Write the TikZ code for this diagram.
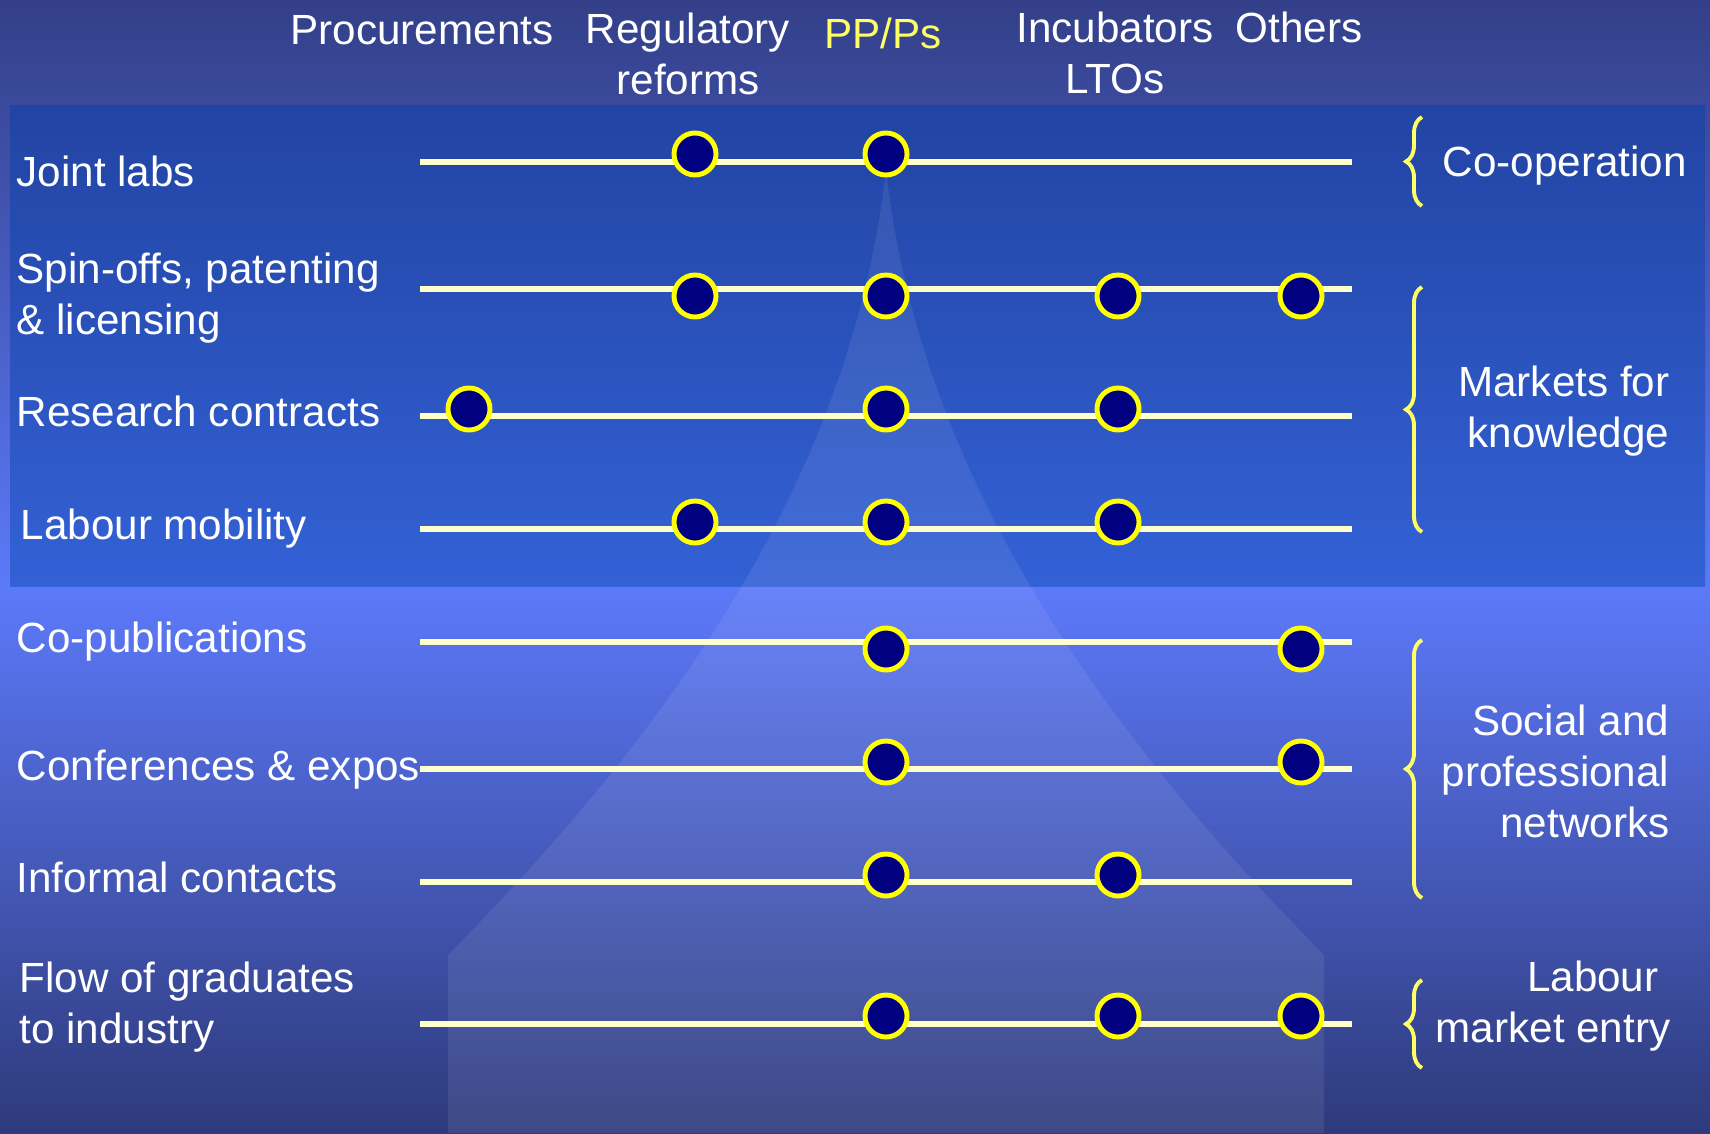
\documentclass[tikz,border=0pt]{standalone}
\usepackage{fontspec}
\setmainfont{Liberation Sans}
\usepackage{xcolor}
\usetikzlibrary{decorations.pathreplacing}

\definecolor{bgtop}{HTML}{333F88}
\definecolor{bgmid}{HTML}{5C79F9}
\definecolor{bgbot}{HTML}{2E3A7B}
\definecolor{paneltop}{HTML}{2244A3}
\definecolor{panelbot}{HTML}{3361D6}
\definecolor{trackcol}{HTML}{FFFFCC}
\definecolor{dotfill}{HTML}{000080}
\definecolor{dotline}{HTML}{FFFF00}
\definecolor{bracecol}{HTML}{FFFF66}

\begin{document}
\begin{tikzpicture}[x=0.01cm, y=-0.01cm,
    dot/.style={circle, draw=dotline, fill=dotfill, line width=1.4pt, minimum size=0.42cm, inner sep=0pt},
    track/.style={draw=trackcol, line width=1.5pt},
    txt/.style={text=white, font=\fontsize{12}{14.5}\selectfont, inner sep=0pt},
    grp/.style={draw=bracecol, line width=1.1pt, decorate, decoration={brace, amplitude=0.16cm}}]
    \useasboundingbox (0,0) rectangle (1710,1133);

    % background and panel
    \shade[top color=bgtop, bottom color=bgmid] (0,0) rectangle (1710,588);
    \shade[top color=bgmid, bottom color=bgbot] (0,588) rectangle (1710,1133);
    \shade[top color=paneltop, bottom color=panelbot] (10,105) rectangle (1705,586);
    \fill[white, opacity=0.08] (448,1133) -- (448,955) .. controls (640,760) and (850,500) .. (886,169)
        .. controls (922,500) and (1132,760) .. (1324,955) -- (1324,1133) -- cycle;

    % column heads (multi-line nodes sit on their last baseline)
    \node[txt, anchor=base] (procurements) at (422,44) {Procurements};
    \node[txt, anchor=base, align=center] (regulatory) at (688,94) {Regulatory\\reforms};
    \node[txt, anchor=base, text=bracecol] (ppps) at (883,48) {PP/Ps};
    \node[txt, anchor=base, align=center] (incubators) at (1115,93) {Incubators\\LTOs};
    \node[txt, anchor=base] (others) at (1299,42) {Others};

    % row labels
    \node[txt, anchor=base west] (jointlabs) at (16,186) {Joint labs};
    \node[txt, anchor=base west, align=left] (spinoffs) at (16,334) {Spin-offs, patenting\\\& licensing};
    \node[txt, anchor=base west] (research) at (16,426) {Research contracts};
    \node[txt, anchor=base west] (mobility) at (20,539) {Labour mobility};
    \node[txt, anchor=base west] (copub) at (16,652) {Co-publications};
    \node[txt, anchor=base west] (conferences) at (16,780) {Conferences \& expos};
    \node[txt, anchor=base west] (informal) at (16,892) {Informal contacts};
    \node[txt, anchor=base west, align=left] (graduates) at (19,1043) {Flow of graduates\\to industry};

    % tracks
    \coordinate (t1w) at (420,162);  \coordinate (t1e) at (1352,162);
    \coordinate (t2w) at (420,289);  \coordinate (t2e) at (1352,289);
    \coordinate (t3w) at (420,416);  \coordinate (t3e) at (1352,416);
    \coordinate (t4w) at (420,529);  \coordinate (t4e) at (1352,529);
    \coordinate (t5w) at (420,642);  \coordinate (t5e) at (1352,642);
    \coordinate (t6w) at (420,769);  \coordinate (t6e) at (1352,769);
    \coordinate (t7w) at (420,882);  \coordinate (t7e) at (1352,882);
    \coordinate (t8w) at (420,1024); \coordinate (t8e) at (1352,1024);
    \draw[track] (t1w) -- (t1e);
    \draw[track] (t2w) -- (t2e);
    \draw[track] (t3w) -- (t3e);
    \draw[track] (t4w) -- (t4e);
    \draw[track] (t5w) -- (t5e);
    \draw[track] (t6w) -- (t6e);
    \draw[track] (t7w) -- (t7e);
    \draw[track] (t8w) -- (t8e);

    % dots
    \node[dot] (jl-reg) at (695,154) {};
    \node[dot] (jl-pp) at (886,154) {};
    \node[dot] (so-reg) at (695,296) {};
    \node[dot] (so-pp) at (886,296) {};
    \node[dot] (so-inc) at (1118,296) {};
    \node[dot] (so-oth) at (1301,296) {};
    \node[dot] (rc-pro) at (469,409) {};
    \node[dot] (rc-pp) at (886,409) {};
    \node[dot] (rc-inc) at (1118,409) {};
    \node[dot] (lm-reg) at (695,522) {};
    \node[dot] (lm-pp) at (886,522) {};
    \node[dot] (lm-inc) at (1118,522) {};
    \node[dot] (cp-pp) at (886,649) {};
    \node[dot] (cp-oth) at (1301,649) {};
    \node[dot] (ce-pp) at (886,762) {};
    \node[dot] (ce-oth) at (1301,762) {};
    \node[dot] (ic-pp) at (886,875) {};
    \node[dot] (ic-inc) at (1118,875) {};
    \node[dot] (fg-pp) at (886,1016) {};
    \node[dot] (fg-inc) at (1118,1016) {};
    \node[dot] (fg-oth) at (1301,1016) {};

    % groups
    \coordinate (b1s) at (1422,206); \coordinate (b1n) at (1422,117);
    \coordinate (b2s) at (1422,532); \coordinate (b2n) at (1422,287);
    \coordinate (b3s) at (1422,898); \coordinate (b3n) at (1422,640);
    \coordinate (b4s) at (1422,1068); \coordinate (b4n) at (1422,980);
    \draw[grp] (b1s) -- (b1n);
    \draw[grp] (b2s) -- (b2n);
    \draw[grp] (b3s) -- (b3n);
    \draw[grp] (b4s) -- (b4n);

    \node[txt, anchor=base west] (cooperation) at (1442,176) {Co-operation};
    \node[txt, anchor=base east, align=right] (markets) at (1670,447) {Markets for\\knowledge};
    \node[txt, anchor=base east, align=right] (social) at (1670,837) {Social and\\professional\\networks};
    \node[txt, anchor=base east, align=right] (labour) at (1671,1042) {Labour\kern0.28em\\market entry};
\end{tikzpicture}
\end{document}
